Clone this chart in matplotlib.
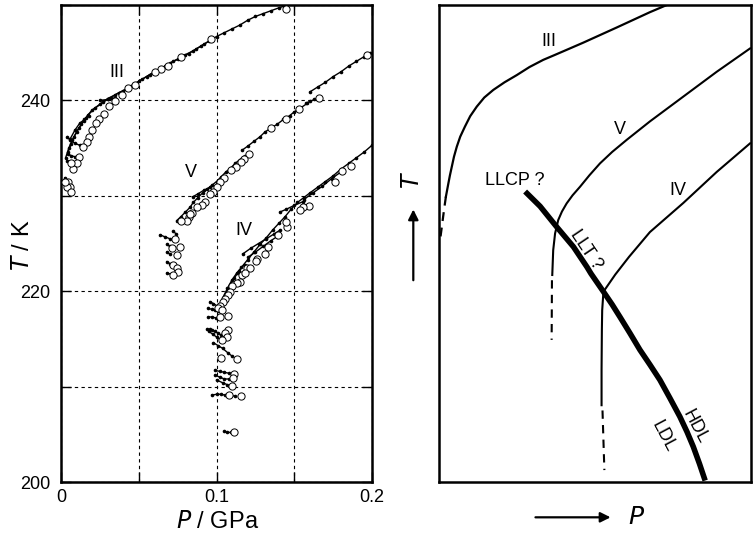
import matplotlib
matplotlib.use("Agg")
import matplotlib.pyplot as plt

plt.rcParams["font.family"] = ["Liberation Sans", "DejaVu Sans"]

# ---- left panel: measured melting data (P in GPa, T in K) ----
iii_circles = [
    (0.1447, 249.6), (0.0963, 246.4), (0.0772, 244.6), (0.0686, 243.6), (0.0645, 243.3),
    (0.0605, 243.0), (0.0476, 241.6), (0.0433, 241.3), (0.0394, 240.6), (0.0349, 239.9),
    (0.0311, 239.4), (0.0279, 238.6), (0.0246, 238.0), (0.0225, 237.6), (0.0197, 236.9),
    (0.0180, 236.2), (0.0169, 235.6), (0.0144, 235.1), (0.0118, 234.1), (0.0105, 233.4),
    (0.0079, 232.8), (0.0064, 233.4), (0.0047, 231.4), (0.0058, 230.9), (0.0037, 230.9),
    (0.0062, 230.4), (0.0026, 231.4),
]
iii_runs = [
    [(0.003, 234.0), (0.005, 235.0), (0.007, 235.8), (0.010, 236.7), (0.013, 237.5),
     (0.016, 238.2), (0.020, 239.0), (0.025, 239.6), (0.030, 240.2), (0.035, 240.6),
     (0.040, 241.0), (0.045, 241.5), (0.050, 242.0), (0.055, 242.5), (0.060, 243.0),
     (0.065, 243.4), (0.070, 243.9), (0.075, 244.3), (0.080, 244.8), (0.085, 245.2),
     (0.090, 245.7), (0.095, 246.2), (0.100, 246.7), (0.105, 247.1), (0.110, 247.5),
     (0.115, 247.9), (0.120, 248.4), (0.125, 248.8), (0.130, 249.1), (0.135, 249.4),
     (0.140, 249.7), (0.145, 249.95)],
    [(0.0045, 234.6), (0.0065, 235.4), (0.0085, 236.2), (0.0115, 237.1), (0.0145, 237.8),
     (0.0175, 238.5), (0.0220, 239.2), (0.0270, 239.8), (0.0320, 240.3), (0.0370, 240.8),
     (0.0420, 241.2), (0.0470, 241.7), (0.0520, 242.2), (0.0570, 242.7), (0.0620, 243.1),
     (0.0670, 243.6), (0.0720, 244.1), (0.0770, 244.5), (0.0820, 244.9), (0.0870, 245.4),
     (0.0920, 245.9), (0.0970, 246.4)],
    [(0.004, 236.2), (0.006, 235.8), (0.009, 235.5), (0.012, 235.3)],
    [(0.0045, 234.4), (0.0065, 234.2), (0.009, 234.1)],
    [(0.004, 233.7), (0.006, 233.5), (0.0075, 233.2)],
    [(0.0025, 231.9), (0.0035, 231.5)],
    [(0.006, 236.0), (0.009, 236.9), (0.012, 237.6), (0.015, 238.0), (0.018, 238.4)],
    [(0.025, 240.0), (0.030, 240.1), (0.035, 240.3)],
]

v_circles = [
    (0.1966, 244.8), (0.1657, 240.3), (0.1531, 239.1), (0.1447, 238.1), (0.1350, 237.1),
    (0.1211, 234.4), (0.1179, 233.9), (0.1156, 233.5), (0.1125, 233.0), (0.1093, 232.7),
    (0.1048, 231.9), (0.1023, 231.4), (0.1001, 230.9), (0.0980, 230.4), (0.0958, 230.2),
    (0.0926, 229.4), (0.0905, 229.0), (0.0877, 228.8), (0.0845, 228.2), (0.0825, 227.8),
    (0.0808, 227.4), (0.0770, 227.4), (0.0830, 228.1), (0.0733, 225.5), (0.0765, 224.6),
    (0.0712, 224.5), (0.0744, 223.8), (0.0722, 222.7), (0.0744, 222.4), (0.0755, 222.0),
    (0.0722, 221.7),
]
v_runs = [
    [(0.0744, 227.4), (0.0770, 227.8), (0.0800, 228.3), (0.0830, 228.8), (0.0850, 229.3),
     (0.0880, 229.8), (0.0910, 230.3), (0.0940, 230.7), (0.0970, 231.1), (0.1000, 231.5),
     (0.1030, 232.0), (0.1060, 232.5), (0.1090, 232.9), (0.1120, 233.4), (0.1150, 233.8),
     (0.1180, 234.2)],
    [(0.0847, 229.9), (0.0880, 230.2), (0.0920, 230.6), (0.0960, 230.9)],
    [(0.1166, 234.8), (0.1200, 235.2), (0.1240, 235.7), (0.1280, 236.2), (0.1312, 236.7),
     (0.1350, 237.1), (0.1390, 237.5), (0.1430, 238.0), (0.1470, 238.4), (0.1500, 238.8),
     (0.1540, 239.2), (0.1584, 239.7)],
    [(0.1576, 239.7), (0.1600, 239.9), (0.1630, 240.1), (0.1657, 240.3)],
    [(0.1601, 240.9), (0.1650, 241.4), (0.1700, 241.9), (0.1750, 242.5), (0.1800, 243.0),
     (0.1850, 243.6), (0.1900, 244.1), (0.1950, 244.6), (0.1990, 245.0)],
    [(0.0637, 225.9), (0.0669, 225.7), (0.0700, 225.5)],
    [(0.0722, 226.3), (0.0740, 226.0)],
    [(0.0680, 224.9), (0.0700, 224.7)],
    [(0.0680, 224.1), (0.0700, 223.9)],
    [(0.0680, 223.1), (0.0700, 222.9)],
    [(0.0680, 221.9), (0.0705, 221.8)],
]

iv_circles = [
    (0.1863, 233.1), (0.1809, 232.6), (0.1762, 231.4), (0.1595, 228.9), (0.1558, 228.8),
    (0.1537, 228.5), (0.1451, 226.7), (0.1447, 227.3), (0.1398, 225.9), (0.1333, 224.6),
    (0.1312, 223.9), (0.1258, 223.4), (0.1194, 222.4), (0.1162, 221.7), (0.1254, 223.2),
    (0.1215, 222.4), (0.1183, 221.9), (0.1151, 221.0), (0.1130, 220.9), (0.1098, 220.5),
    (0.1087, 219.9), (0.1076, 219.6), (0.1055, 219.2), (0.1044, 218.9), (0.1023, 218.5),
    (0.1012, 218.2), (0.1033, 218.0), (0.1076, 217.4), (0.1023, 217.3), (0.1076, 215.9),
    (0.1055, 215.6), (0.1066, 215.2), (0.1033, 214.9), (0.1130, 212.9), (0.1027, 213.0),
    (0.1112, 211.3), (0.1104, 210.9), (0.1098, 210.1), (0.1083, 209.1), (0.1156, 209.0),
    (0.1112, 205.2),
]
iv_runs = [
    [(0.1040, 219.3), (0.1070, 220.3), (0.1100, 221.2), (0.1130, 221.9), (0.1160, 222.5),
     (0.1200, 223.3), (0.1240, 224.1), (0.1280, 224.9), (0.1320, 225.6), (0.1360, 226.4),
     (0.1400, 227.1), (0.1440, 227.8), (0.1480, 228.6), (0.1520, 229.3), (0.1560, 229.8),
     (0.1600, 230.3), (0.1650, 230.9), (0.1700, 231.5), (0.1750, 232.1), (0.1800, 232.8),
     (0.1850, 233.4), (0.1900, 234.0), (0.1950, 234.6), (0.2000, 235.3)],
    [(0.1055, 219.6), (0.1085, 220.6), (0.1115, 221.4), (0.1145, 222.1), (0.1180, 222.8)],
    [(0.1560, 229.6), (0.1620, 230.3), (0.1680, 231.0), (0.1740, 231.8), (0.1800, 232.5)],
    [(0.1168, 223.9), (0.1220, 224.5), (0.1270, 225.0), (0.1320, 225.5), (0.1370, 226.0),
     (0.1408, 226.4)],
    [(0.1205, 223.6), (0.1250, 224.1), (0.1300, 224.7), (0.1350, 225.3), (0.1387, 225.7)],
    [(0.1408, 228.3), (0.1450, 228.6), (0.1500, 229.0), (0.1558, 229.4)],
    [(0.0958, 218.9), (0.0980, 218.7), (0.1000, 218.5)],
    [(0.0947, 218.2), (0.0970, 218.1), (0.0990, 218.0), (0.1010, 217.9)],
    [(0.0947, 217.3), (0.0970, 217.3), (0.0995, 217.2)],
    [(0.0937, 216.0), (0.0955, 216.0), (0.0970, 215.9), (0.0990, 215.8), (0.1010, 215.6),
     (0.1030, 215.4)],
    [(0.0950, 215.8), (0.0975, 215.5), (0.1000, 215.2), (0.1020, 215.0)],
    [(0.0980, 214.6), (0.1010, 214.3), (0.1040, 214.0), (0.1076, 213.5), (0.1100, 213.2)],
    [(0.0990, 211.7), (0.1020, 211.6), (0.1050, 211.5), (0.1080, 211.4)],
    [(0.0990, 211.2), (0.1020, 211.0), (0.1050, 210.8), (0.1080, 210.8)],
    [(0.1000, 210.7), (0.1040, 210.4), (0.1070, 210.2)],
    [(0.0969, 209.1), (0.1000, 209.2), (0.1030, 209.2), (0.1055, 209.1), (0.1083, 209.1),
     (0.1120, 209.0)],
    [(0.1050, 205.3), (0.1070, 205.2), (0.1090, 205.2)],
]

x_ticks = [0, 0.05, 0.1, 0.15, 0.2]
x_labels = ["0", "", "0.1", "", "0.2"]
y_ticks = [200, 210, 220, 230, 240, 250]
y_labels = ["200", "", "220", "", "240", ""]
left_labels = [("III", 0.036, 242.9), ("V", 0.0836, 232.4), ("IV", 0.1179, 226.4)]

# ---- right panel: schematic curves (axes fraction) ----
sk_iii = [(0.730, 1.000), (0.676, 0.985), (0.623, 0.969), (0.570, 0.953), (0.516, 0.937),
          (0.462, 0.921), (0.409, 0.906), (0.370, 0.895), (0.334, 0.885), (0.290, 0.870),
          (0.249, 0.853), (0.210, 0.838), (0.174, 0.822), (0.145, 0.806), (0.121, 0.787),
          (0.100, 0.767), (0.083, 0.745), (0.068, 0.724), (0.057, 0.703), (0.048, 0.682),
          (0.041, 0.661), (0.035, 0.643), (0.030, 0.626), (0.022, 0.598)]
sk_iii_dash = [(0.022, 0.598), (0.016, 0.570), (0.010, 0.540), (0.003, 0.505)]
sk_v = [(0.997, 0.909), (0.890, 0.860), (0.783, 0.808), (0.676, 0.756), (0.601, 0.717),
        (0.555, 0.692), (0.516, 0.668), (0.482, 0.643), (0.452, 0.619), (0.428, 0.601),
        (0.409, 0.584), (0.394, 0.567), (0.382, 0.549), (0.372, 0.521), (0.366, 0.486),
        (0.364, 0.451), (0.363, 0.434)]
sk_v_dash = [(0.362, 0.423), (0.361, 0.298)]
sk_iv = [(0.997, 0.710), (0.890, 0.650), (0.783, 0.585), (0.676, 0.524), (0.609, 0.472),
         (0.565, 0.435), (0.527, 0.399), (0.523, 0.360), (0.522, 0.319), (0.521, 0.235),
         (0.521, 0.161)]
sk_iv_dash = [(0.524, 0.150), (0.530, 0.025)]
sk_llt = [(0.276, 0.609), (0.324, 0.578), (0.377, 0.535), (0.431, 0.493), (0.474, 0.451),
          (0.487, 0.437), (0.527, 0.399), (0.555, 0.372), (0.580, 0.346), (0.612, 0.312),
          (0.644, 0.277), (0.676, 0.246), (0.708, 0.214), (0.740, 0.176), (0.772, 0.137),
          (0.795, 0.105), (0.815, 0.074), (0.835, 0.038), (0.853, 0.003)]


def xy(points):
    return [p[0] for p in points], [p[1] for p in points]


def draw_branch(ax, runs, circles):
    for run in runs:
        px, py = xy(run)
        ax.plot(px, py, "-", color="black", lw=1.0, marker="o", ms=2.6, mew=0, zorder=3)
    cx, cy = xy(circles)
    ax.plot(cx, cy, "o", ms=5.2, mfc="white", mec="black", mew=0.7, ls="none", zorder=4)


fig = plt.figure(figsize=(7.56, 5.4), dpi=100)
ax = fig.add_axes([0.0807, 0.1074, 0.4114, 0.8833])
ax2 = fig.add_axes([0.5807, 0.1074, 0.4127, 0.8833])

for runs, circles in ((iii_runs, iii_circles), (v_runs, v_circles), (iv_runs, iv_circles)):
    draw_branch(ax, runs, circles)
for text, px, py in left_labels:
    ax.text(px, py, text, fontsize=13, ha="center", va="center")

ax.set_xlim(0, 0.2)
ax.set_ylim(200, 250)
ax.set_xticks(x_ticks)
ax.set_xticklabels(x_labels)
ax.set_yticks(y_ticks)
ax.set_yticklabels(y_labels)
ax.tick_params(direction="in", length=7, width=1, top=True, right=True, labelsize=13)
ax.tick_params(axis="y", pad=8)
ax.tick_params(axis="x", pad=5)
ax.grid(True, color="black", lw=0.8, ls=(0, (3, 3)))
for s in ax.spines.values():
    s.set_linewidth(1.8)
fig.text(0.030, 0.546, r"$\it{T}$ / K", rotation=90, fontsize=17, ha="center", va="center")
fig.text(0.288, 0.033, r"$\it{P}$ / GPa", fontsize=17, ha="center", va="center")

# schematic panel
ax2.plot(*xy(sk_iii), color="black", lw=1.6)
ax2.plot(*xy(sk_iii_dash), color="black", lw=1.6, ls=(0, (4, 3)))
ax2.plot(*xy(sk_v), color="black", lw=1.5)
ax2.plot(*xy(sk_v_dash), color="black", lw=1.5, ls=(0, (4, 3)))
ax2.plot(*xy(sk_iv), color="black", lw=1.5)
ax2.plot(*xy(sk_iv_dash), color="black", lw=1.5, ls=(0, (4, 3)))
ax2.plot(*xy(sk_llt), color="black", lw=4, solid_capstyle="butt")
ax2.set_xlim(0, 1)
ax2.set_ylim(0, 1)
ax2.set_xticks([])
ax2.set_yticks([])
for s in ax2.spines.values():
    s.set_linewidth(1.8)

ax2.text(0.353, 0.923, "III", fontsize=13, ha="center", va="center")
ax2.text(0.580, 0.738, "V", fontsize=13, ha="center", va="center")
ax2.text(0.765, 0.612, "IV", fontsize=13, ha="center", va="center")
ax2.text(0.244, 0.633, "LLCP ?", fontsize=13, ha="center", va="center")
ax2.text(0.471, 0.486, "LLT ?", fontsize=13, ha="center", va="center", rotation=-56)
ax2.text(0.821, 0.116, "HDL", fontsize=13, ha="center", va="center", rotation=-62)
ax2.text(0.719, 0.095, "LDL", fontsize=13, ha="center", va="center", rotation=-62)

fig.text(0.5467, 0.6667, r"$\it{T}$", rotation=90, fontsize=17, ha="center", va="center")
fig.text(0.8422, 0.0432, r"$\it{P}$", fontsize=18, ha="center", va="center")
fig.add_artist(matplotlib.patches.FancyArrowPatch(
    (0.5467, 0.4759), (0.5467, 0.6173), transform=fig.transFigure,
    arrowstyle="-|>,head_length=6,head_width=3", color="black", lw=1.6))
fig.add_artist(matplotlib.patches.FancyArrowPatch(
    (0.7046, 0.0420), (0.8113, 0.0420), transform=fig.transFigure,
    arrowstyle="-|>,head_length=6,head_width=3", color="black", lw=1.6))

fig.savefig("out.png", dpi=100)
